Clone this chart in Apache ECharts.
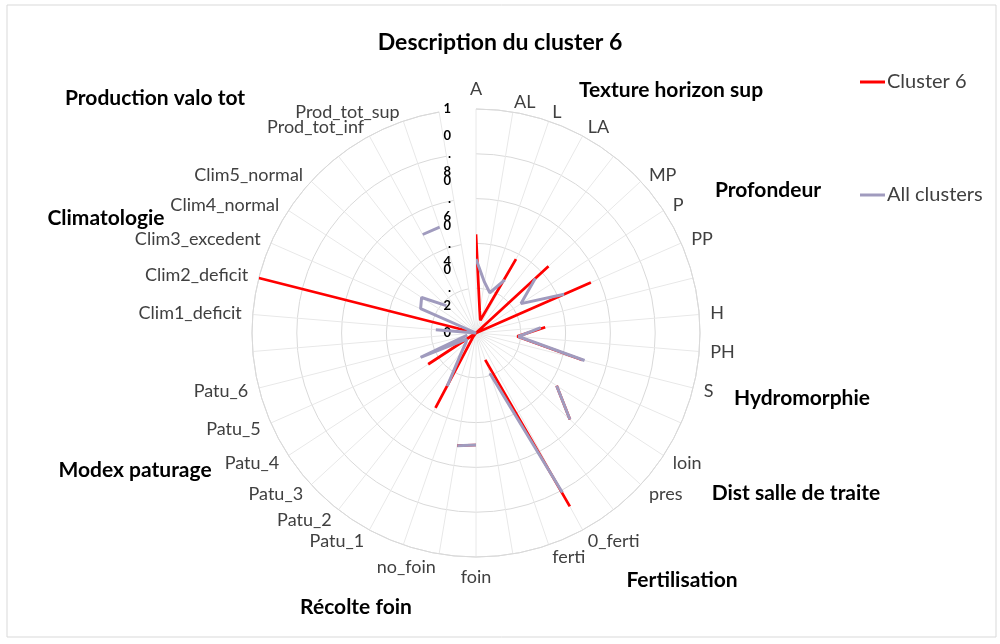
<!DOCTYPE html>
<html>
<head>
<meta charset="utf-8">
<script src="https://cdn.jsdelivr.net/npm/echarts@6/dist/echarts.min.js"></script>
<style>
  html, body { margin: 0; padding: 0; background: #fff; }
  #chart { width: 1000px; height: 644px; }
</style>
</head>
<body>
<div id="chart"></div>
<script>
// categories around the circle, '' = empty separator between groups
const categories = [
  'A', 'AL', 'L', 'LA', '',
  'MP', 'P', 'PP', '',
  'H', 'PH', 'S', '',
  'loin', 'pres', '',
  '0_ferti', 'ferti', '',
  'foin', 'no_foin', '',
  'Patu_1', 'Patu_2', 'Patu_3', 'Patu_4', 'Patu_5', 'Patu_6', '',
  'Clim1_deficit', 'Clim2_deficit', 'Clim3_excedent', 'Clim4_normal', 'Clim5_normal', '',
  'Prod_tot_inf', 'Prod_tot_sup', ''
];

// values (null = gap)
const cluster6 = [
  0.44, 0.10, 0.06, 0.375, null,
  0.44, 0.0, 0.56, null,
  0.31, 0.185, 0.49, null,
  0.43, 0.57, null,
  0.88, 0.127, null,
  0.50, 0.51, null,
  0.38, 0.02, 0.0, 0.255, 0.0, 0.0, null,
  0.0, 1.0, 0.0, 0.0, 0.0, null,
  0.0, 0.0, null
];

const allClusters = [
  0.33, 0.23, 0.19, 0.27, null,
  0.36, 0.24, 0.43, null,
  0.29, 0.19, 0.50, null,
  0.43, 0.57, null,
  0.81, 0.19, null,
  0.50, 0.51, null,
  0.27, 0.10, 0.06, 0.05, 0.27, 0.04, null,
  0.18, 0.0, 0.27, 0.29, 0.18, null,
  0.50, 0.50, null
];

const radiusTicks = [0, 0.2, 0.4, 0.6, 0.8, 1];

// group titles placed around the chart
const groupNames = [
  'Production valo tot', 'Texture horizon sup', 'Profondeur', 'Climatologie',
  'Hydromorphie', 'Dist salle de traite', 'Modex paturage', 'Fertilisation', 'Récolte foin'
];
const groupPos = [
  [155, 98], [671, 90], [768, 190], [106, 218],
  [802, 398], [796, 493], [135, 470], [682, 580], [356, 607]
];

const chart = echarts.init(document.getElementById('chart'));

const font = 'Lato, "Open Sans", sans-serif';

// excel puts the labels a bit more centred than echarts does, nudge a few
const labelPad = {
  'A': [0, 0, 0, 0],
  'foin': [0, 0, 0, 0],
  'AL': [-7, 0, -10, 20],
  'no_foin': [-7, 62, -10, 0]
};

const angleData = categories.map(function (c) {
  if (labelPad[c]) return { value: c, textStyle: { padding: labelPad[c] } };
  return c;
});

const option = {
  animation: false,
  textStyle: { fontFamily: font },
  title: {
    text: 'Description du cluster 6',
    left: 'center',
    top: 26,
    textStyle: { fontSize: 23, fontWeight: 'bold', color: '#000', fontFamily: font }
  },
  legend: {
    data: ['Cluster 6', 'All clusters'],
    orient: 'vertical',
    left: 855,
    top: 67,
    itemGap: 93,
    itemWidth: 25,
    itemHeight: 3,
    icon: 'rect',
    textStyle: { fontSize: 20, color: '#404040', padding: [0, 0, 0, -3] }
  },
  polar: {
    center: [476, 333],
    radius: 224
  },
  angleAxis: {
    type: 'category',
    data: angleData,
    boundaryGap: false,
    startAngle: 90,
    clockwise: true,
    axisLine: { lineStyle: { color: '#d9d9d9', width: 1 } },
    axisTick: { show: false },
    axisLabel: {
      interval: 0,
      fontSize: 18,
      color: '#404040',
      margin: 11,
      padding: [-7, 0, -10, 0]
    },
    splitLine: { show: true, lineStyle: { color: '#e8e8e8', width: 1 } }
  },
  radiusAxis: {
    min: radiusTicks[0],
    max: radiusTicks[radiusTicks.length - 1],
    interval: 0.2,
    axisLine: { show: false },
    axisTick: { show: false },
    splitLine: { show: true, lineStyle: { color: '#d9d9d9', width: 1 } },
    axisLabel: {
      margin: 25,
      fontSize: 13,
      fontWeight: 'bold',
      color: '#000',
      lineHeight: 18,
      formatter: function (v) {
        if (v === 1 || v === 0) return String(v);
        return v.toFixed(1).split('').join('\n');
      }
    }
  },
  graphic: [
    {
      type: 'rect',
      shape: { x: 7, y: 5, width: 989, height: 632 },
      style: { fill: 'none', stroke: '#d9d9d9', lineWidth: 1 },
      silent: true
    }
  ].concat(groupNames.map(function (name, i) {
    return {
      type: 'text',
      x: groupPos[i][0],
      y: groupPos[i][1],
      style: {
        text: name,
        fill: '#000',
        font: 'bold 21px ' + font,
        textAlign: 'center',
        textVerticalAlign: 'middle'
      }
    };
  })),
  series: [
    {
      name: 'Cluster 6',
      type: 'line',
      coordinateSystem: 'polar',
      data: cluster6,
      symbol: 'none',
      connectNulls: false,
      color: '#ff0000',
      lineStyle: { color: '#ff0000', width: 2.75 },
      z: 2
    },
    {
      name: 'All clusters',
      type: 'line',
      coordinateSystem: 'polar',
      data: allClusters,
      symbol: 'none',
      connectNulls: false,
      color: '#a09bbe',
      lineStyle: { color: '#a09bbe', width: 3 },
      z: 3
    }
  ]
};

chart.setOption(option);
</script>
</body>
</html>
